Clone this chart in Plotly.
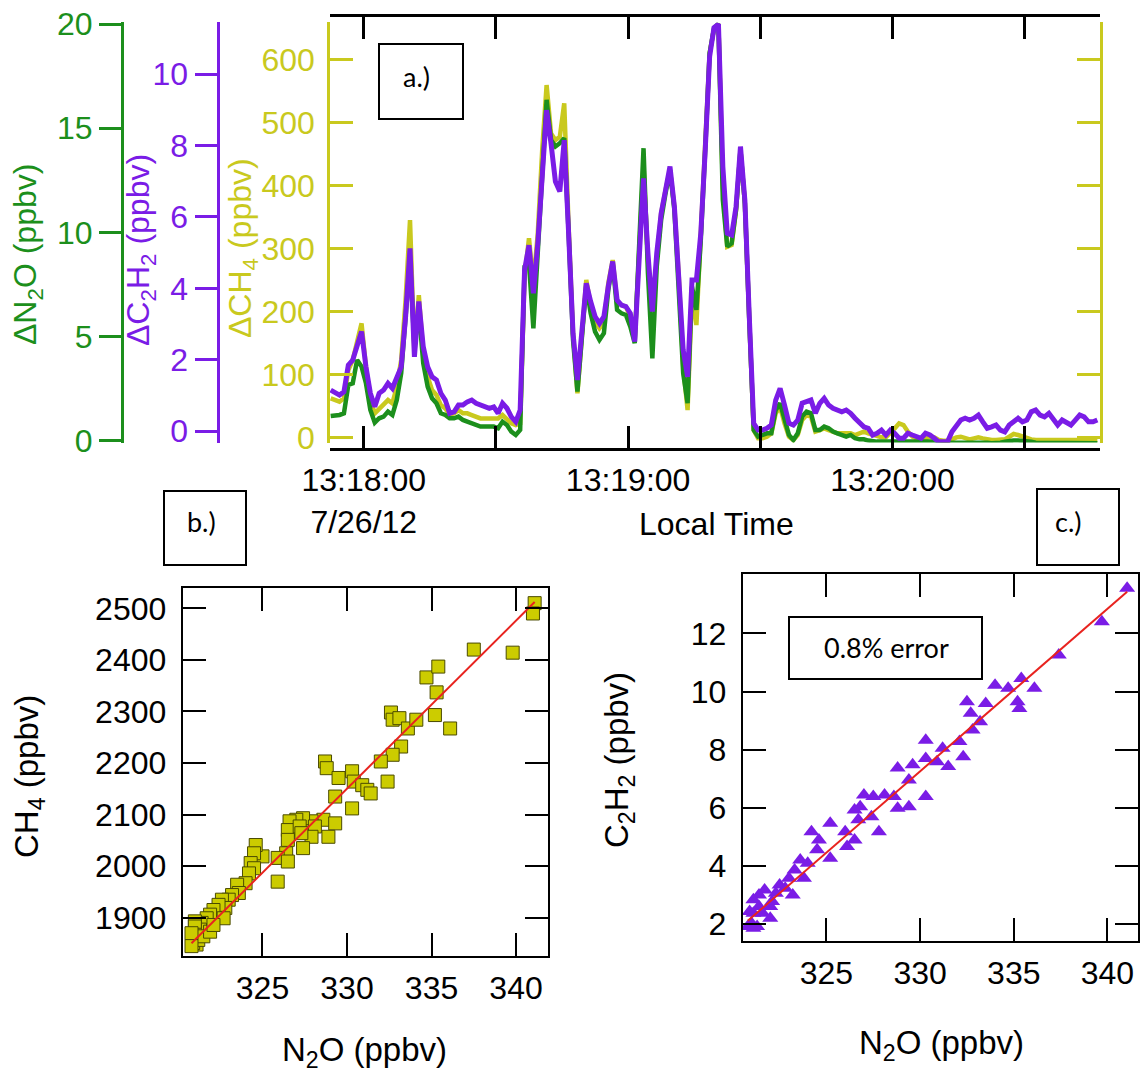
import plotly.graph_objects as go
import pandas as pd

W, H = 1141, 1076
FONT = "Liberation Sans, Arial, Helvetica, sans-serif"
BOXFONT = "Lato, Open Sans, sans-serif"
GREEN = "#1c8f1c"
PURPLE = "#7a1ce6"
YELLOW = "#c9c91e"
SQUARE_FILL = "#cccc00"
RED = "#e8231f"

# ---- panel a: 1 Hz enhancements above background ----
d_ch4 = [
    62.5, 59.8, 57.2, 62.5, 107.5, 123.4, 149.9, 181.6, 112.8, 59.8,
    38.7, 46.6, 51.9, 59.8, 54.5, 81.0, 123.4, 218.7, 345.8, 134.0,
    226.6, 134.0, 96.9, 75.7, 67.8, 51.9, 46.6, 36.0, 38.7, 43.9,
    38.7, 38.7, 36.0, 33.4, 30.7, 30.7, 30.7, 30.7, 30.7, 36.0,
    28.1, 22.8, 20.1, 22.8, 255.7, 316.7, 245.2, 324.6, 457.0, 560.2,
    483.4, 472.8, 478.1, 531.1, 335.2, 165.7, 70.4, 165.7, 250.5, 210.7,
    184.3, 173.7, 181.6, 245.2, 282.2, 216.0, 210.7, 208.1, 192.2, 155.1,
    282.2, 433.1, 282.2, 208.1, 282.2, 356.4, 393.4, 425.2, 366.9, 255.7,
    112.8, 43.9, 229.3, 179.0, 324.6, 462.3, 610.5, 650.0, 657.0, 398.7,
    303.4, 306.1, 361.6, 457.0, 372.2, 186.9, 12.2, -1.0, -1.0, 1.6,
    6.9, 38.7, 49.2, 22.8, 1.6, -3.7, 4.3, 28.1, 36.0, 33.4,
    9.6, 12.2, 14.8, 12.2, 9.6, 6.9, 6.9, 6.9, 6.9, 4.3,
    6.9, 9.6, 6.9, 4.3, 1.6, 0.6, 0.6, 6.9, 14.8, 22.8,
    20.1, 9.6, 1.6, -1.0, -2.6, -1.0, 1.6, 0.6, -3.7, -4.8,
    -4.8, -2.6, 0.6, 1.6, -1.0, -2.6, -1.0, 0.6, -1.0, -2.6,
    -3.7, -3.7, -3.7, -2.6, 1.6, 5.9, 4.3, 1.6, -1.0, -2.6,
    -3.7, -3.7, -4.8, -4.8, -4.8, -3.7, -3.7, -4.8, -4.8, -4.8,
    -3.7, -4.8, -4.8, -3.7, -3.7,
]

d_n2o = [
    1.19, 1.19, 1.24, 1.32, 2.68, 2.76, 3.88, 3.56, 2.76, 1.48,
    0.87, 1.08, 1.16, 1.40, 1.24, 1.96, 3.24, 5.96, 8.68, 4.52,
    6.28, 3.72, 2.60, 2.04, 1.80, 1.32, 1.24, 1.08, 1.08, 1.16,
    1.00, 0.92, 0.84, 0.71, 0.68, 0.68, 0.68, 0.68, 0.60, 0.92,
    0.76, 0.44, 0.28, 0.52, 8.36, 8.52, 5.40, 9.00, 12.84, 16.36,
    14.44, 14.12, 14.28, 14.52, 9.96, 4.84, 2.36, 5.00, 7.48, 6.12,
    5.24, 4.84, 5.16, 7.24, 8.52, 6.28, 6.12, 6.04, 5.48, 4.68,
    9.00, 14.04, 8.04, 3.96, 8.36, 10.60, 11.88, 13.00, 11.08, 7.56,
    3.24, 1.80, 7.40, 6.28, 9.64, 13.96, 18.60, 19.80, 20.00, 11.56,
    9.32, 9.48, 11.08, 13.96, 11.40, 5.80, 0.52, 0.20, 0.28, 0.36,
    0.36, 1.48, 1.80, 1.00, 0.28, 0.04, 0.36, 1.16, 1.40, 1.32,
    0.52, 0.52, 0.68, 0.60, 0.44, 0.36, 0.28, 0.20, 0.28, 0.12,
    0.07, 0.07, 0.01, -0.04, -0.04, -0.04, -0.04, -0.04, -0.04, 0.01,
    -0.04, -0.04, -0.04, -0.04, -0.04, -0.04, 0.01, -0.04, -0.09, -0.09,
    -0.09, -0.04, -0.04, -0.04, -0.04, -0.04, -0.04, -0.04, -0.09, -0.09,
    -0.12, -0.12, -0.09, -0.04, 0.01, 0.01, 0.01, 0.01, -0.04, -0.04,
    -0.09, -0.09, -0.12, -0.12, -0.12, -0.12, -0.12, -0.12, -0.12, -0.12,
    -0.09, -0.12, -0.12, -0.12, -0.12,
]

d_c2h2 = [
    1.15, 1.06, 1.01, 1.10, 1.85, 1.99, 2.37, 2.79, 1.80, 1.06,
    0.68, 1.06, 1.15, 1.34, 1.20, 1.52, 1.80, 3.21, 5.12, 2.08,
    3.63, 2.37, 1.80, 1.52, 1.43, 1.06, 0.87, 0.50, 0.54, 0.73,
    0.73, 0.82, 0.87, 0.78, 0.73, 0.68, 0.64, 0.68, 0.50, 0.78,
    0.64, 0.40, 0.26, 0.59, 4.51, 5.21, 3.86, 5.26, 7.22, 8.99,
    8.06, 6.99, 6.71, 8.15, 5.54, 2.74, 1.43, 2.74, 4.14, 3.63,
    3.21, 3.02, 3.21, 4.05, 4.75, 3.67, 3.53, 3.49, 3.30, 2.51,
    4.61, 7.08, 4.98, 3.35, 4.98, 6.10, 6.75, 7.41, 6.29, 4.33,
    2.27, 1.52, 4.23, 4.23, 5.54, 7.87, 10.49, 11.30, 11.40, 7.41,
    5.54, 5.49, 6.29, 7.97, 6.47, 3.21, 0.22, 0.03, 0.03, 0.08,
    0.17, 0.87, 1.20, 0.73, 0.22, 0.17, 0.31, 0.78, 0.82, 0.87,
    0.50, 0.78, 0.92, 0.73, 0.64, 0.59, 0.54, 0.59, 0.50, 0.36,
    0.22, 0.12, 0.08, -0.11, -0.06, 0.03, -0.11, 0.03, -0.06, -0.20,
    -0.20, -0.06, -0.11, -0.16, -0.20, -0.06, -0.11, -0.20, -0.30, -0.30,
    -0.30, -0.02, 0.17, 0.31, 0.36, 0.31, 0.36, 0.45, 0.26, 0.08,
    0.12, 0.17, 0.03, -0.02, 0.17, 0.26, 0.36, 0.26, 0.31, 0.54,
    0.59, 0.45, 0.40, 0.50, 0.36, 0.17, 0.31, 0.22, 0.17, 0.31,
    0.45, 0.40, 0.26, 0.26, 0.31,
]

# sample clock of the 1 Hz record
sample_time = pd.date_range("2012-07-26 13:17:52.5", periods=len(d_ch4), freq="1s")

time_ticks = ["2012-07-26 13:18:00", "2012-07-26 13:18:30", "2012-07-26 13:19:00",
              "2012-07-26 13:19:30", "2012-07-26 13:20:00", "2012-07-26 13:20:30"]
time_labels = ["13:18:00<br>7/26/12", "", "13:19:00", "", "13:20:00", ""]
time_range = ["2012-07-26 13:17:52.34", "2012-07-26 13:20:47.1"]

# ---- panel b: CH4 vs N2O ----
b_n2o = [
    341.1, 341.0, 337.5, 339.8, 334.7, 335.4, 335.3, 335.2, 336.1, 332.6,
    332.7, 333.1, 333.6, 334.1, 333.2, 332.7, 332.0, 332.4, 328.7, 328.8,
    329.5, 330.3, 330.4, 330.9, 331.2, 331.4, 329.3, 330.3, 328.6, 329.3,
    328.9, 327.9, 327.4, 327.0, 326.6, 326.5, 327.2, 328.1, 327.9, 327.3,
    327.4, 326.5, 326.4, 325.9, 326.5, 325.9, 325.0, 324.6, 324.5, 324.3,
    324.5, 324.2, 324.0, 323.5, 323.6, 323.2, 323.0, 322.6, 322.8, 322.4,
    322.1, 321.9, 322.7, 321.7, 321.7, 321.4, 321.3, 321.0, 321.0, 321.0,
    321.0, 321.1, 320.9, 321.2, 321.5, 321.9, 322.1, 320.8, 320.8,
]
b_ch4 = [
    2510, 2490, 2420, 2414, 2366, 2387, 2337, 2293, 2267, 2298,
    2284, 2287, 2267, 2284, 2232, 2216, 2203, 2164, 2203, 2190,
    2171, 2184, 2164, 2157, 2148, 2141, 2135, 2112, 2090, 2083,
    2057, 2087, 2093, 2090, 2087, 2070, 2077, 2077, 2057, 2064,
    2035, 2051, 2025, 2016, 2009, 1970, 2019, 2041, 2025, 2006,
    1996, 1986, 1967, 1964, 1948, 1944, 1935, 1935, 1919, 1925,
    1915, 1906, 1899, 1899, 1883, 1890, 1877, 1893, 1883, 1867,
    1857, 1848, 1851, 1857, 1864, 1873, 1886, 1870, 1845,
]
ch4_fit_slope, ch4_fit_intercept = 32.6, -8607.7

# ---- panel c: C2H2 vs N2O ----
c_n2o = [
    341.05, 339.7, 337.4, 334.0, 334.7, 335.4, 336.1, 335.2, 335.3, 332.5,
    333.5, 332.7, 332.8, 333.2, 332.1, 332.3, 331.2, 330.9, 331.5, 330.3,
    330.3, 330.3, 328.8, 329.6, 329.4, 328.8, 329.4, 328.6, 328.1, 327.5,
    327.0, 326.8, 326.5, 326.7, 327.4, 327.8, 326.5, 326.0, 326.1, 325.2,
    325.2, 324.6, 324.2, 324.5, 324.0, 323.6, 323.3, 323.8, 323.0, 323.2,
    322.8, 322.5, 322.3, 322.1, 322.0, 321.7, 321.4, 321.4, 321.1, 321.1,
    321.0, 321.1, 321.3, 320.9, 322.0, 321.6, 320.8,
]
c_c2h2 = [
    13.55, 12.40, 11.26, 10.22, 10.11, 10.45, 10.11, 9.65, 9.42, 9.65,
    9.59, 9.25, 8.68, 8.96, 8.28, 7.76, 8.05, 7.59, 7.42, 8.33,
    7.70, 6.39, 7.37, 7.48, 6.96, 5.99, 6.04, 6.39, 6.44, 6.39,
    6.44, 6.04, 5.93, 5.59, 5.70, 5.18, 4.90, 5.18, 4.67, 5.47,
    4.27, 4.90, 5.18, 4.56, 4.10, 4.21, 3.87, 3.58, 3.58, 3.01,
    3.24, 3.35, 3.07, 2.78, 2.61, 3.18, 3.01, 2.61, 2.84, 2.38,
    2.04, 1.86, 1.92, 2.44, 2.21, 2.38, 1.92,
]
c2h2_fit_slope, c2h2_fit_intercept = 0.5586, -177.08


def px(x):
    return x / W


def py(y):
    return 1 - y / H


def fit_line(xs, slope, intercept):
    x0, x1 = min(xs), max(xs)
    return [x0, x1], [slope * x0 + intercept, slope * x1 + intercept]


fig = go.Figure()

# time series, back to front: CH4, N2O, C2H2 (the C2H2 trace also carries the top frame axis)
fig.add_trace(go.Scatter(x=sample_time, y=d_ch4, xaxis="x", yaxis="y", mode="lines",
                         line=dict(color=YELLOW, width=4.5), hoverinfo="skip"))
fig.add_trace(go.Scatter(x=sample_time, y=d_n2o, xaxis="x", yaxis="y2", mode="lines",
                         line=dict(color=GREEN, width=4.5), hoverinfo="skip"))
fig.add_trace(go.Scatter(x=sample_time, y=d_c2h2, xaxis="x2", yaxis="y3", mode="lines",
                         line=dict(color=PURPLE, width=5), hoverinfo="skip"))

# correlation panels
fig.add_trace(go.Scatter(x=b_n2o, y=b_ch4, xaxis="x3", yaxis="y4", mode="markers",
                         marker=dict(symbol="square", size=13, color=SQUARE_FILL,
                                     line=dict(color="#4a4a00", width=1))))
fx, fy = fit_line(b_n2o, ch4_fit_slope, ch4_fit_intercept)
fig.add_trace(go.Scatter(x=fx, y=fy, xaxis="x3", yaxis="y4", mode="lines",
                         line=dict(color=RED, width=2)))

fig.add_trace(go.Scatter(x=c_n2o, y=c_c2h2, xaxis="x4", yaxis="y5", mode="markers",
                         marker=dict(symbol="triangle-up", size=14, color=PURPLE,
                                     line=dict(width=0))))
fx, fy = fit_line(c_n2o, c2h2_fit_slope, c2h2_fit_intercept)
fig.add_trace(go.Scatter(x=fx, y=fy, xaxis="x4", yaxis="y5", mode="lines",
                         line=dict(color=RED, width=2)))

tick_font = dict(family=FONT, size=32, color="black")


def colored_y(color, size=32):
    return dict(family=FONT, size=size, color=color)


frame_axis = dict(showline=True, linecolor="black", linewidth=2, mirror="ticks",
                  ticks="inside", ticklen=23, tickwidth=2, tickcolor="black", automargin=False,
                  showgrid=False, zeroline=False, tickfont=dict(family=FONT, size=32, color="black"))

fig.update_layout(
    width=W, height=H,
    margin=dict(l=0, r=0, t=0, b=0, autoexpand=False),
    paper_bgcolor="white", plot_bgcolor="white",
    showlegend=False,
    xaxis=dict(domain=[px(330), px(1100)], anchor="free", position=py(449), type="date",
               range=time_range, tickmode="array", tickvals=time_ticks, ticktext=time_labels,
               ticks="inside", ticklen=22, tickwidth=2.5, tickcolor="black",
               showline=True, linecolor="black", linewidth=2.5, automargin=False,
               showgrid=False, zeroline=False, tickfont=tick_font, ticklabelstandoff=2),
    xaxis2=dict(overlaying="x", side="top", anchor="free", position=py(15), type="date",
                range=time_range, tickmode="array", tickvals=time_ticks, showticklabels=False,
                ticks="inside", ticklen=22, tickwidth=2.5, tickcolor="black",
                showline=True, linecolor="black", linewidth=2.5, automargin=False,
                showgrid=False, zeroline=False),
    yaxis=dict(domain=[py(442.5), py(22.4)], anchor="x", range=[-7.6, 659.7],
               tickmode="array", tickvals=[0, 100, 200, 300, 400, 500, 600],
               ticks="inside", ticklen=23, tickwidth=2.5, tickcolor=YELLOW,
               showline=True, linecolor=YELLOW, linewidth=2.5, mirror="ticks", automargin=False,
               showgrid=False, zeroline=False, tickfont=colored_y(YELLOW), ticklabelstandoff=6),
    yaxis2=dict(overlaying="y", anchor="free", position=px(121.7), side="left",
                range=[-0.082, 20.077], tickmode="array", tickvals=[0, 5, 10, 15, 20],
                ticks="outside", ticklen=22, tickwidth=2.5, tickcolor=GREEN,
                showline=True, linecolor=GREEN, linewidth=2.5, automargin=False,
                showgrid=False, zeroline=False, tickfont=colored_y(GREEN)),
    yaxis3=dict(overlaying="y", anchor="free", position=px(218.3), side="left",
                range=[-0.319, 11.448], tickmode="array", tickvals=[0, 2, 4, 6, 8, 10],
                ticks="outside", ticklen=23, tickwidth=2.5, tickcolor=PURPLE,
                showline=True, linecolor=PURPLE, linewidth=2.5, automargin=False,
                showgrid=False, zeroline=False, tickfont=colored_y(PURPLE)),
    xaxis3=dict(domain=[px(182.7), px(547.5)], anchor="y4", range=[320.28, 341.86],
                tickmode="array", tickvals=[325, 330, 335, 340], ticklabelstandoff=3, **frame_axis),
    yaxis4=dict(domain=[py(955.7), py(588.3)], anchor="x3", range=[1826.4, 2538.8],
                tickmode="array", tickvals=[1900, 2000, 2100, 2200, 2300, 2400, 2500],
                ticklabelstandoff=8, **frame_axis),
    xaxis4=dict(domain=[px(742.7), px(1138)], anchor="y5", range=[320.53, 341.63],
                tickmode="array", tickvals=[325, 330, 335, 340], ticklabelstandoff=3, **frame_axis),
    yaxis5=dict(domain=[py(940.7), py(574)], anchor="x4", range=[1.436, 14.04],
                tickmode="array", tickvals=[2, 4, 6, 8, 10, 12],
                ticklabelstandoff=8, **frame_axis),
)


def label(text, x, y, size=32, color="black", angle=0, family=FONT):
    fig.add_annotation(text=text, x=px(x), y=py(y), xref="paper", yref="paper",
                       showarrow=False, textangle=angle, xanchor="center", yanchor="middle",
                       font=dict(family=family, size=size, color=color))


# axis titles
label("ΔN<sub>2</sub>O (ppbv)", 27, 255, color=GREEN, angle=-90)
label("ΔC<sub>2</sub>H<sub>2</sub> (ppbv)", 140, 250, color=PURPLE, angle=-90)
label("ΔCH<sub>4</sub> (ppbv)", 243, 248, color=YELLOW, angle=-90)
label("Local Time", 716, 524, size=32)
label("CH<sub>4</sub> (ppbv)", 29, 777, size=33, angle=-90)
label("N<sub>2</sub>O (ppbv)", 364, 1052, size=33)
label("C<sub>2</sub>H<sub>2</sub> (ppbv)", 619, 760, size=33, angle=-90)
label("N<sub>2</sub>O (ppbv)", 941, 1045, size=33)

# panel tags and note boxes
boxes = [
    ((379, 44, 463, 119), "a.)", (416, 77), 27),
    ((164, 491, 246, 565), "b.)", (201, 521), 27),
    ((1037, 489, 1119, 565), "c.)", (1068, 521), 27),
    ((789, 617, 982, 679), "0.8% error", (886, 647), 27),
]
for (x0, y0, x1, y1), text, (tx, ty), size in boxes:
    fig.add_shape(type="rect", xref="paper", yref="paper",
                  x0=px(x0), x1=px(x1), y0=py(y1), y1=py(y0),
                  line=dict(color="black", width=2), fillcolor="white", layer="above")
    label(text, tx, ty, size=size, family=BOXFONT)

fig.write_html("out.html", config={"displayModeBar": False})
